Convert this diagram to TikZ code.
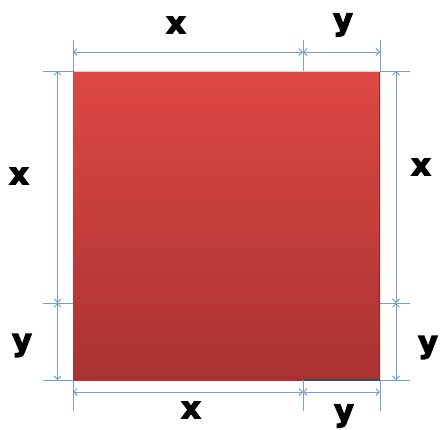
\documentclass[tikz,border=0pt]{standalone}
\usepackage{fontspec}
\newfontfamily\heavy{DejaVu Sans}[FakeBold=4.5]
\usetikzlibrary{arrows.meta}
\definecolor{dimblue}{RGB}{120,158,208}
\definecolor{sqtop}{RGB}{222,72,68}
\definecolor{sqbot}{RGB}{168,50,50}
\definecolor{edgeteal}{RGB}{40,85,100}
\tikzset{
  dimline/.style={draw=dimblue, line width=0.9pt, {Straight Barb[length=3.5pt,width=7pt]}-{Straight Barb[length=3.5pt,width=7pt]}},
  extline/.style={draw=dimblue, line width=0.9pt},
  lbl/.style={font=\heavy\bfseries\fontsize{30}{30}\selectfont, inner sep=0pt, text=black}
}
\begin{document}
\begin{tikzpicture}[x=1pt,y=-1pt]
\useasboundingbox (0,0) rectangle (442,429);
% square
\shade[top color=sqtop, bottom color=sqbot] (73,71) rectangle (380,380);
\draw[white!70!sqtop, line width=1pt] (73.5,71.5) -- (379.5,71.5);
\draw[sqbot!85!black, line width=0.8pt] (379.6,72) -- (379.6,380);
\coordinate (TL) at (73,71); \coordinate (TM) at (303,71); \coordinate (TR) at (380,71);
\coordinate (BL) at (73,380); \coordinate (BM) at (303,380); \coordinate (BR) at (380,380);
\coordinate (LM) at (73,303); \coordinate (RM) at (380,303);
\draw[edgeteal, line width=1.6pt] (BM) -- (BR);
% extension lines top
\coordinate (t1) at (73,40); \coordinate (t2) at (303,40); \coordinate (t3) at (380,40);
\draw[extline] (t1) -- (TL); \draw[extline] (t2) -- (TM); \draw[extline] (t3) -- (TR);
% extension lines bottom
\coordinate (b1) at (73,411); \coordinate (b2) at (303,411); \coordinate (b3) at (380,411);
\draw[extline] (BL) -- (b1); \draw[extline] (BM) -- (b2); \draw[extline] (BR) -- (b3);
% extension lines left
\coordinate (l1) at (43,71); \coordinate (l2) at (43,303); \coordinate (l3) at (43,380);
\draw[extline] (l1) -- (TL); \draw[extline] (l2) -- (LM); \draw[extline] (l3) -- (BL);
% extension lines right
\coordinate (r1) at (410,71); \coordinate (r2) at (410,303); \coordinate (r3) at (410,380);
\draw[extline] (TR) -- (r1); \draw[extline] (RM) -- (r2); \draw[extline] (BR) -- (r3);
% dimension lines
\coordinate (dt1) at (73,52); \coordinate (dt2) at (303,52); \coordinate (dt3) at (380,52);
\draw[dimline] (dt1) -- (dt2); \draw[dimline] (dt2) -- (dt3);
\coordinate (db1) at (73,392); \coordinate (db2) at (303,392); \coordinate (db3) at (380,392);
\draw[dimline] (db1) -- (db2); \draw[dimline] (db2) -- (db3);
\coordinate (dl1) at (57.5,71); \coordinate (dl2) at (57.5,303); \coordinate (dl3) at (57.5,380);
\draw[dimline] (dl1) -- (dl2); \draw[dimline] (dl2) -- (dl3);
\coordinate (dr1) at (396,71); \coordinate (dr2) at (396,303); \coordinate (dr3) at (396,380);
\draw[dimline] (dr1) -- (dr2); \draw[dimline] (dr2) -- (dr3);
% labels
\node[lbl] (xt) at (176,25) {x};
\node[lbl] (yt) at (343,25) {y};
\node[lbl] (xl) at (19,176) {x};
\node[lbl] (xr) at (421,167) {x};
\node[lbl] (yl) at (22,345.5) {y};
\node[lbl] (yr) at (428,347.5) {y};
\node[lbl] (xb) at (191,410) {x};
\node[lbl] (yb) at (344,416) {y};
\end{tikzpicture}
\end{document}
